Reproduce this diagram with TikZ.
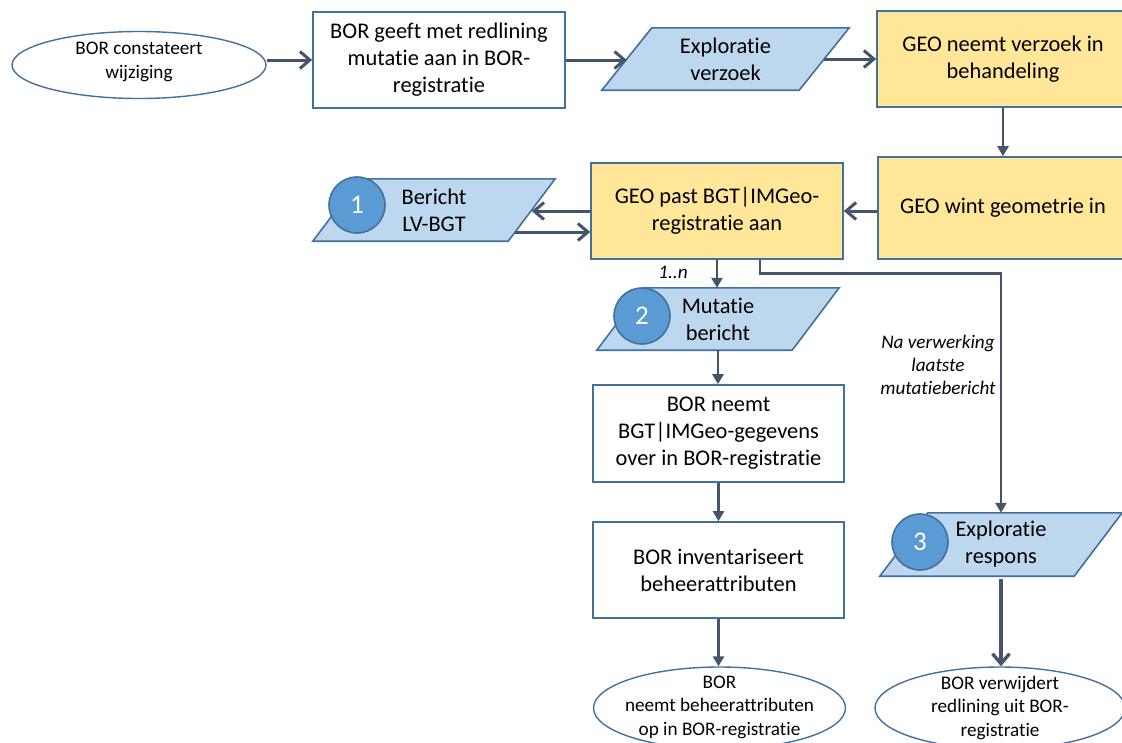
\documentclass[tikz,border=0pt]{standalone}
\usepackage{fontspec}
\setmainfont{Carlito}[RawFeature=-liga]
\usetikzlibrary{shapes.geometric,arrows.meta,calc,backgrounds}
\definecolor{bord}{HTML}{41719C}
\definecolor{lblue}{HTML}{BDD7EE}
\definecolor{yell}{HTML}{FFE699}
\definecolor{cblue}{HTML}{5B9BD5}
\definecolor{arr}{HTML}{44546A}
\tikzset{
 big/.style={font=\fontsize{22.4}{27}\selectfont, align=center},
 small/.style={font=\fontsize{19.2}{23.5}\selectfont, align=center},
 box/.style={draw=bord, line width=1.6pt, rectangle, inner sep=0pt, big},
 wbox/.style={box, fill=white},
 ybox/.style={box, fill=yell},
 oval/.style={draw=bord, line width=1.4pt, ellipse, inner sep=0pt, fill=white},
 ovaltext/.style={inner sep=0pt, small},
 ptext/.style={rectangle, inner sep=0pt, big, minimum height=62pt},
 pshape/.style={draw=bord, fill=lblue, line width=1.6pt},
 num/.style={circle, draw=bord, line width=1.6pt, fill=cblue, text=white, minimum size=56pt, inner sep=0pt, font=\fontsize{27}{30}\selectfont},
 oarrow/.style={draw=arr, line width=3pt, -{Straight Barb[length=10pt,width=17pt]}},
 tarrow/.style={draw=arr, line width=2.7pt, -{Triangle[length=10pt,width=11pt]}},
 lab/.style={font=\fontsize{19.2}{23}\selectfont\itshape, align=center, inner sep=0pt},
}
\begin{document}
\begin{tikzpicture}[x=1pt,y=-1pt]
\useasboundingbox (0,0) rectangle (1122,742);
\clip (0,0) rectangle (1122,742);
% top row
\node[oval, minimum width=254pt, minimum height=67pt] (e1) at (139,65) {};
\node[ovaltext] (e1t) at (139,62) {BOR constateert\\wijziging};
\node[wbox, minimum width=252pt, minimum height=96pt] (b1) at (439,60) {BOR geeft met redlining\\mutatie aan in BOR-\\registratie};
\node[ptext, minimum width=197pt] (p0) at (725.5,59) {Exploratie\\verzoek};
\node[ybox, minimum width=252pt, minimum height=96pt] (g1) at (1003,59) {GEO neemt verzoek in\\behandeling};
% second row
\node[ybox, minimum width=250pt, minimum height=102pt] (g2) at (1003,208) {GEO wint geometrie in};
\node[ybox, minimum width=252pt, minimum height=96pt] (g3) at (717,211) {GEO past BGT|IMGeo-\\registratie aan};
\node[ptext, minimum width=195pt] (p1) at (434,210) {Bericht\\LV-BGT};
% middle column
\node[ptext, minimum width=195pt] (p2) at (718,319) {Mutatie\\bericht};
\node[wbox, minimum width=251pt, minimum height=97pt] (b2) at (718.5,433.5) {BOR neemt\\BGT|IMGeo-gegevens\\over in BOR-registratie};
\node[wbox, minimum width=251pt, minimum height=96pt] (b3) at (718.5,570) {BOR inventariseert\\beheerattributen};
\node[oval, minimum width=252pt, minimum height=82pt] (e2) at (719.5,708) {};
\node[ovaltext] (e2t) at (719.5,707) {BOR\\neemt beheerattributen\\op in BOR-registratie};
% right column
\node[ptext, minimum width=194pt, minimum height=63pt] (p3) at (1001,544.5) {Exploratie\\respons};
\node[oval, minimum width=250pt, minimum height=82pt] (e3) at (1000,708) {};
\node[ovaltext] (e3t) at (1000,707.5) {BOR verwijdert\\redlining uit BOR-\\registratie};
% parallelogram shapes
\begin{scope}[on background layer]
\draw[pshape] ($(p0.north west)+(25,0)$) -- ($(p0.north east)+(25,0)$) -- ($(p0.south east)+(-25,0)$) -- ($(p0.south west)+(-25,0)$) -- cycle;
\draw[pshape] ($(p1.north west)+(23.5,0)$) -- ($(p1.north east)+(23.5,0)$) -- ($(p1.south east)+(-23.5,0)$) -- ($(p1.south west)+(-23.5,0)$) -- cycle;
\draw[pshape] ($(p2.north west)+(23.5,0)$) -- ($(p2.north east)+(23.5,0)$) -- ($(p2.south east)+(-23.5,0)$) -- ($(p2.south west)+(-23.5,0)$) -- cycle;
\draw[pshape] ($(p3.north west)+(24,0)$) -- ($(p3.north east)+(24,0)$) -- ($(p3.south east)+(-24,0)$) -- ($(p3.south west)+(-24,0)$) -- cycle;
\end{scope}
% number circles
\node[num] (c1) at (357,205) {1};
\node[num] (c2) at (642,316) {2};
\node[num] (c3) at (920,542) {3};
% labels
\node[lab] (l1) at (673,272) {1..n};
\node[lab] (l2) at (938,365) {Na verwerking\\laatste\\mutatiebericht};
% connectors
\draw[oarrow] (e1.east |- b1.west) -- (b1.west);
\draw[oarrow] (b1.east) -- (b1.east -| p0.west);
\draw[oarrow] (p0.east) -- (p0.east -| g1.west);
\draw[tarrow] (g1.south) -- (g2.north);
\draw[oarrow] (g2.west |- g3.east) -- (g3.east);
\draw[oarrow] (g3.west) -- (g3.west -| p1.east);
\coordinate (p1low) at ($(p1.east)+(-16.7,22)$);
\draw[oarrow] (p1low) -- (p1low -| g3.west);
\draw[tarrow] (g3.south) -- (g3.south |- p2.north);
\draw[tarrow] (p2.south) -- (p2.south |- b2.north);
\draw[tarrow] (b2.south) -- (b3.north);
\draw[tarrow] (b3.south) -- (b3.south |- e2.north);
\coordinate (g3out) at ($(g3.south)+(43,0)$);
\draw[tarrow] (g3out) -- ++(0,14) -| (p3.north);
\draw[oarrow, line width=3.4pt] ($(p3.south)+(0,3)$) -- (p3.south |- e3.north);
\end{tikzpicture}
\end{document}
